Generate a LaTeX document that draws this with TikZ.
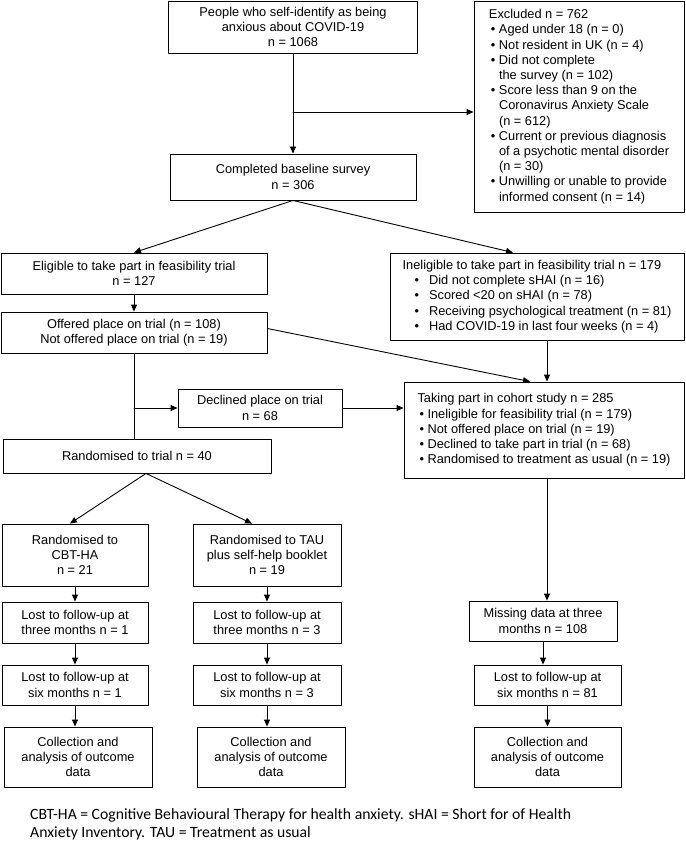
\documentclass[tikz,border=0pt]{standalone}
\usepackage{fontspec}
\setmainfont{Liberation Sans}
\newfontfamily\notefont{Carlito}
\usetikzlibrary{arrows.meta,calc}
\newcommand{\bul}{\textbullet\ }
\newcommand{\bulgap}{\phantom{\textbullet\ }}

\begin{document}
\begin{tikzpicture}[x=1pt,y=-1pt,line cap=round,line join=round,
  box/.style={draw,line width=0.9pt,inner sep=2pt,font=\fontsize{12.8}{15.2}\selectfont},
  cbox/.style={box,align=center},
  listbox/.style={box,align=left,inner ysep=0pt},
  arr/.style={line width=0.9pt,-{Triangle[length=7pt,width=6pt]}},
  con/.style={line width=0.9pt}]
\useasboundingbox (0,0) rectangle (685,842);

% screening
\node[cbox,minimum width=249pt,minimum height=52pt] (people) at (293,27)
  {People who self-identify as being\\anxious about COVID-19\\n = 1068};
\node[listbox,minimum width=210pt,minimum height=211pt] (excl) at (579,106.5)
  {Excluded n = 762\\
   \hspace*{2pt}\bul Aged under 18 (n = 0)\\
   \hspace*{2pt}\bul Not resident in UK (n = 4)\\
   \hspace*{2pt}\bul Did not complete\\
   \hspace*{2pt}\bulgap the survey (n = 102)\\
   \hspace*{2pt}\bul Score less than 9 on the\\
   \hspace*{2pt}\bulgap Coronavirus Anxiety Scale\\
   \hspace*{2pt}\bulgap (n = 612)\\
   \hspace*{2pt}\bul Current or previous diagnosis\\
   \hspace*{2pt}\bulgap of a psychotic mental disorder\\
   \hspace*{2pt}\bulgap (n = 30)\\
   \hspace*{2pt}\bul Unwilling or unable to provide\\
   \hspace*{2pt}\bulgap informed consent (n = 14)};
\node[cbox,minimum width=246pt,minimum height=46pt] (base) at (293,177)
  {Completed baseline survey\\n = 306};

% eligibility
\node[cbox,minimum width=266pt,minimum height=41pt] (elig) at (134,273.5)
  {Eligible to take part in feasibility trial\\n = 127};
\node[listbox,minimum width=294pt,minimum height=87pt] (inelig) at (537,296.5)
  {Ineligible to take part in feasibility trial n = 179\\
   \hspace*{12pt}\textbullet\hspace{10pt}Did not complete sHAI (n = 16)\\
   \hspace*{12pt}\textbullet\hspace{10pt}Scored <20 on sHAI (n = 78)\\
   \hspace*{12pt}\textbullet\hspace{10pt}Receiving psychological treatment (n = 81)\\
   \hspace*{12pt}\textbullet\hspace{10pt}Had COVID-19 in last four weeks (n = 4)};
\node[cbox,minimum width=266pt,minimum height=41pt] (offer) at (134,332.5)
  {Offered place on trial (n = 108)\\Not offered place on trial (n = 19)};
\node[cbox,minimum width=164pt,minimum height=38pt] (decl) at (260,408)
  {Declined place on trial\\n = 68};
\node[listbox,minimum width=280pt,minimum height=96pt] (cohort) at (544,430)
  {Taking part in cohort study n = 285\\
   \hspace*{2pt}\bul Ineligible for feasibility trial (n = 179)\\
   \hspace*{2pt}\bul Not offered place on trial (n = 19)\\
   \hspace*{2pt}\bul Declined to take part in trial (n = 68)\\
   \hspace*{2pt}\bul Randomised to treatment as usual (n = 19)};
\node[cbox,minimum width=268pt,minimum height=34pt] (rand) at (137,456)
  {Randomised to trial n = 40};

% follow-up
\node[cbox,minimum width=146pt,minimum height=62pt] (cbt) at (75,555)
  {Randomised to\\CBT-HA\\n = 21};
\node[cbox,minimum width=148pt,minimum height=62pt] (tau) at (267,555)
  {Randomised to TAU\\plus self-help booklet\\n = 19};
\node[cbox,minimum width=146pt,minimum height=41pt] (lostA) at (75,622.5)
  {Lost to follow-up at\\three months n = 1};
\node[cbox,minimum width=148pt,minimum height=41pt] (lostB) at (267,622.5)
  {Lost to follow-up at\\three months n = 3};
\node[cbox,minimum width=148pt,minimum height=40pt] (miss) at (543,621)
  {Missing data at three\\months n = 108};
\node[cbox,minimum width=146pt,minimum height=40pt] (sixA) at (75,685)
  {Lost to follow-up at\\six months n = 1};
\node[cbox,minimum width=148pt,minimum height=40pt] (sixB) at (267,685)
  {Lost to follow-up at\\six months n = 3};
\node[cbox,minimum width=147pt,minimum height=40pt] (sixC) at (547.5,685)
  {Lost to follow-up at\\six months n = 81};
\node[cbox,minimum width=148pt,minimum height=60pt] (dataA) at (78,757)
  {Collection and\\analysis of outcome\\data};
\node[cbox,minimum width=148pt,minimum height=60pt] (dataB) at (271,757)
  {Collection and\\analysis of outcome\\data};
\node[cbox,minimum width=147pt,minimum height=60pt] (dataC) at (547.5,757)
  {Collection and\\analysis of outcome\\data};

\node[anchor=north west,inner sep=0pt,align=left,font=\notefont\fontsize{15.7}{18}\selectfont] (note) at (30,808)
  {CBT-HA = Cognitive Behavioural Therapy for health anxiety. sHAI = Short for of Health\\
   Anxiety Inventory. TAU = Treatment as usual};

% connectors
\coordinate (exsplit) at (293,112);
\draw[arr] (people.south) -- (base.north);
\draw[arr] (exsplit) -- (exsplit -| excl.west);
\draw[arr] (base.south) -- (elig.north);
\draw[arr] (base.south) -- ([xshift=-24pt]inelig.north);
\draw[arr] (elig.south) -- (offer.north);
\draw[con] (offer.south) -- (offer.south |- rand.north);
\draw[arr] (offer.south |- decl.west) -- (decl.west);
\draw[arr] (decl.east) -- (decl.east -| cohort.west);
\draw[arr] ([yshift=4pt]offer.east) -- ([xshift=-14pt]cohort.north);
\draw[arr] ([xshift=10pt]inelig.south) -- ([xshift=10pt]inelig.south |- cohort.north);
\draw[arr] ([xshift=9pt]rand.south) -- ([xshift=-5pt]cbt.north);
\draw[arr] ([xshift=9pt]rand.south) -- ([xshift=-15pt]tau.north);
\draw[arr] (cbt.south) -- (lostA.north);
\draw[arr] (tau.south) -- (lostB.north);
\draw[arr] (lostA.south) -- (sixA.north);
\draw[arr] (lostB.south) -- (sixB.north);
\draw[arr] (sixA.south) -- (sixA.south |- dataA.north);
\draw[arr] (sixB.south) -- (sixB.south |- dataB.north);
\draw[arr] ([xshift=3pt]cohort.south) -- ([xshift=3pt]cohort.south |- miss.north);
\draw[arr] (miss.south) -- (miss.south |- sixC.north);
\draw[arr] (sixC.south) -- (dataC.north);
\end{tikzpicture}
\end{document}
